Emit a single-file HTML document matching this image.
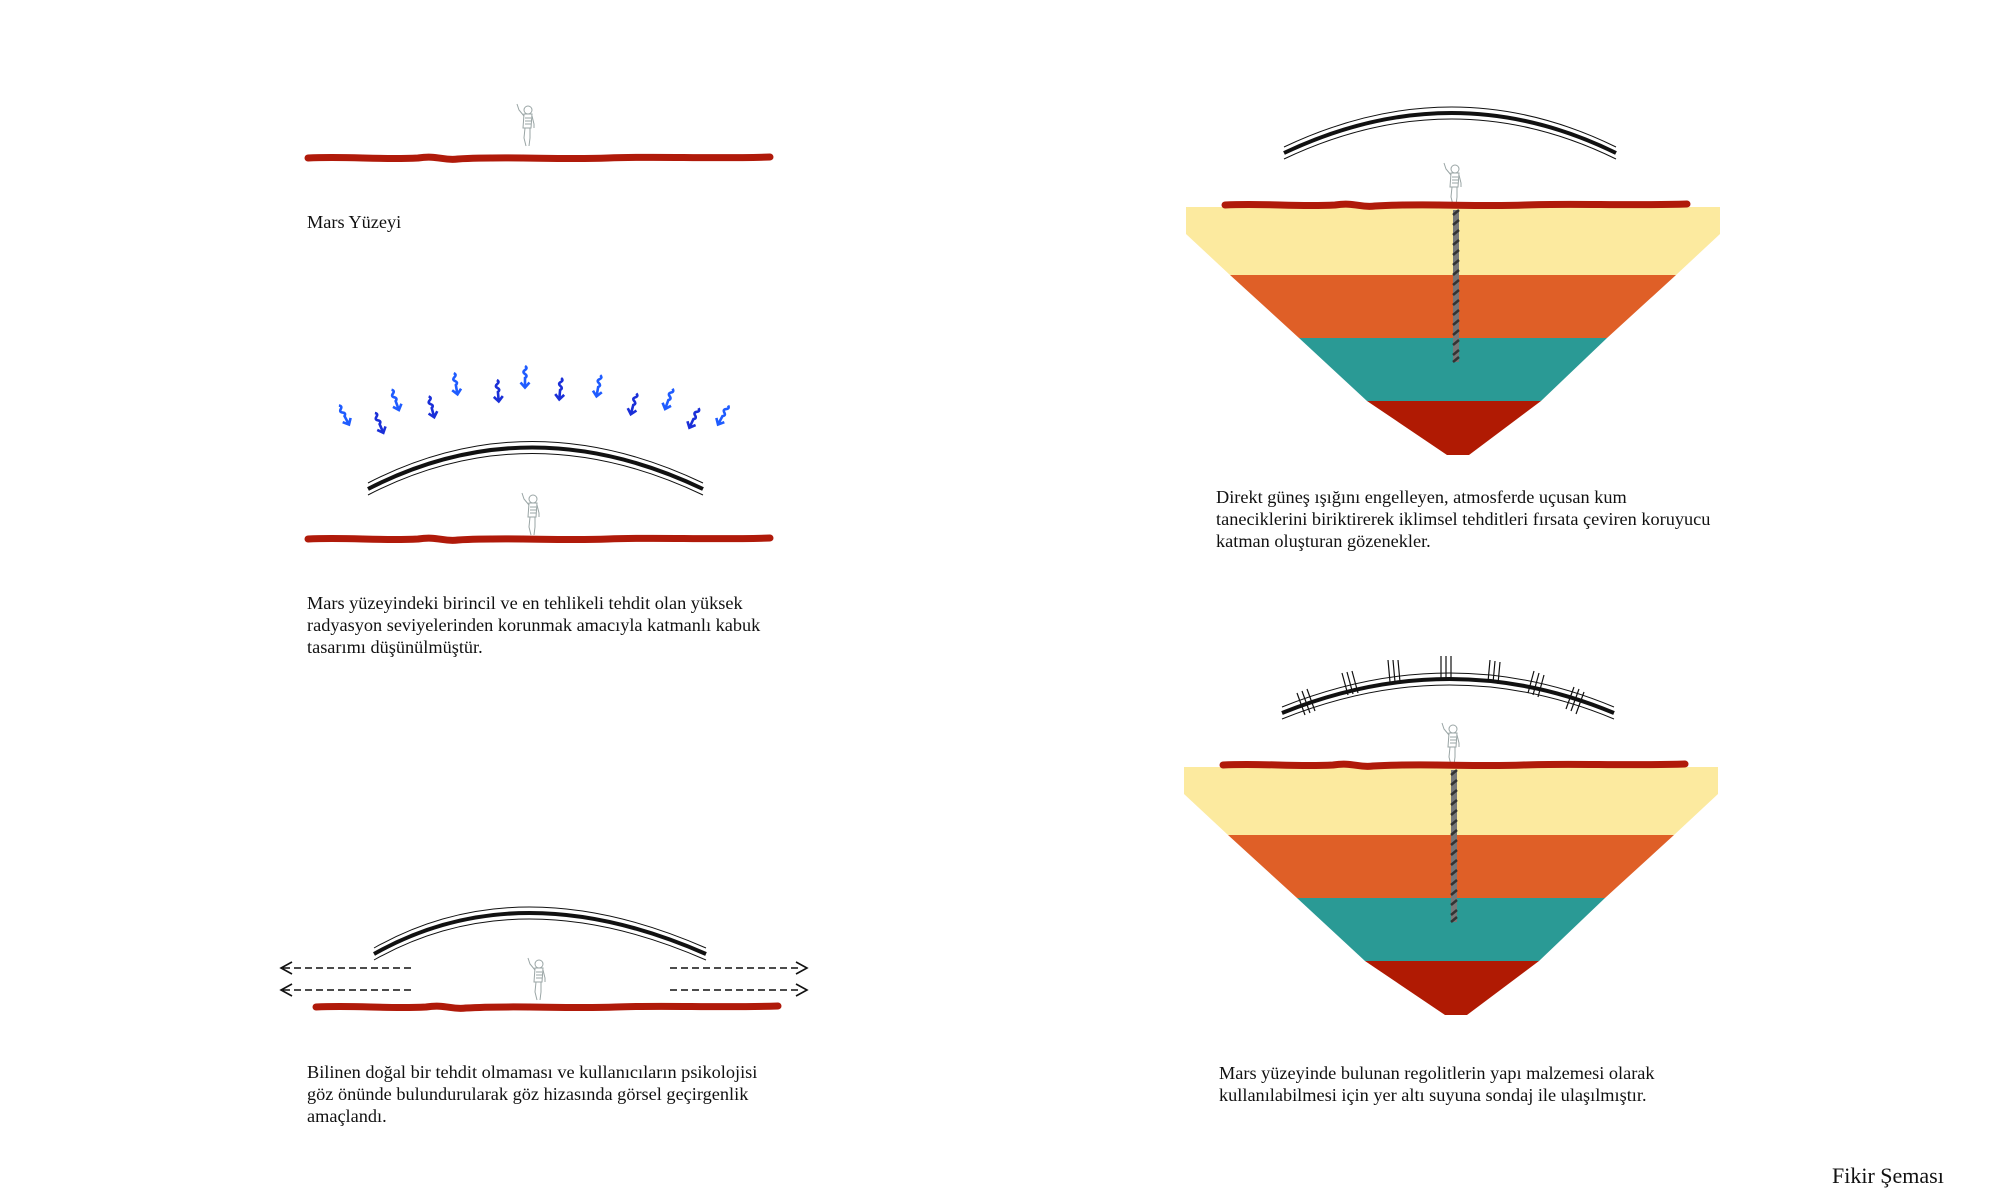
<!DOCTYPE html>
<html><head><meta charset="utf-8"><style>
html,body{margin:0;padding:0;background:#fff;}
svg{display:block;}
text{font-family:"Liberation Serif",serif;font-size:18.3px;fill:#111;}
</style></head><body>
<svg width="2000" height="1200" viewBox="0 0 2000 1200" xmlns="http://www.w3.org/2000/svg">
<defs>
  <g id="astro" fill="none" stroke="#9aa5a5" stroke-width="1">
    <circle cx="3" cy="-36" r="4"/>
    <path d="M-1,-32 L-2,-18 L6,-18 L7,-32 Z"/>
    <path d="M-1,-30 L-6,-36 L-8,-42"/>
    <path d="M7,-30 L9,-22 L9,-18"/>
    <path d="M0,-18 L-1,-8 L1,0 M5,-18 L5,-8 L4,0"/>
    <path d="M0,-28 h6 M0,-25 h6 M0,-22 h6"/>
  </g>
  <path id="redline" d="M0,0 C40,-2 70,2 110,0 C130,-3 135,3 150,1 C200,-2 250,2 300,0 C350,-2 400,1 462,-1" fill="none" stroke="#b01a0a" stroke-width="7" stroke-linecap="round"/>
  <g id="arr">
    <path d="M0,-13 q3,2 0,4 q-3,2 0,4 q3,2 0,4 L0,8" fill="none" stroke-width="2.6"/>
    <path d="M-4.5,3.5 L0,8.5 L4.5,3.5" fill="none" stroke-width="2.6"/>
  </g>
</defs>

<!-- Panel 1 -->
<use href="#astro" x="525" y="146"/>
<use href="#redline" x="308" y="158"/>
<text x="307" y="228">Mars Yüzeyi</text>

<!-- Panel 2 -->
<g fill="none" stroke="#111">
  <path d="M368,489 Q529,406 703,489" stroke-width="4"/>
  <path d="M368,483 Q529,400 703,483" stroke-width="1"/>
  <path d="M368,495 Q529,412 703,495" stroke-width="1"/>
</g>
<g stroke="#1f5cff">
  <use href="#arr" transform="translate(345,417) rotate(-28)"/>
  <use href="#arr" transform="translate(380,425) rotate(-23)" stroke="#1a2fd8"/>
  <use href="#arr" transform="translate(396,402) rotate(-20)"/>
  <use href="#arr" transform="translate(432,409) rotate(-15)" stroke="#1a2fd8"/>
  <use href="#arr" transform="translate(456,386) rotate(-10)"/>
  <use href="#arr" transform="translate(498,393) rotate(-5)" stroke="#1a2fd8"/>
  <use href="#arr" transform="translate(525,379) rotate(0)"/>
  <use href="#arr" transform="translate(560,391) rotate(5)" stroke="#1a2fd8"/>
  <use href="#arr" transform="translate(598,388) rotate(10)"/>
  <use href="#arr" transform="translate(633,406) rotate(15)" stroke="#1a2fd8"/>
  <use href="#arr" transform="translate(668,401) rotate(20)"/>
  <use href="#arr" transform="translate(693,420) rotate(25)" stroke="#1a2fd8"/>
  <use href="#arr" transform="translate(722,417) rotate(28)"/>
</g>
<use href="#astro" x="530" y="535"/>
<use href="#redline" x="308" y="539"/>
<text x="307" y="609">Mars yüzeyindeki birincil ve en tehlikeli tehdit olan yüksek</text>
<text x="307" y="631">radyasyon seviyelerinden korunmak amacıyla katmanlı kabuk</text>
<text x="307" y="653">tasarımı düşünülmüştür.</text>

<!-- Panel 3 -->
<g fill="none" stroke="#111">
  <path d="M374,954 Q519,872 706,954" stroke-width="4"/>
  <path d="M374,948 Q519,866 706,948" stroke-width="1"/>
  <path d="M374,960 Q519,878 706,960" stroke-width="1"/>
</g>
<g fill="none" stroke="#111" stroke-width="1.6">
  <path d="M283,968 H413 M283,990 H413 M670,968 H800 M670,990 H800" stroke-dasharray="7,4"/>
  <path d="M292,962 L281,968 L292,974 M292,984 L281,990 L292,996"/>
  <path d="M796,962 L807,968 L796,974 M796,984 L807,990 L796,996"/>
</g>
<use href="#astro" x="536" y="1000"/>
<use href="#redline" x="316" y="1007"/>
<text x="307" y="1078">Bilinen doğal bir tehdit olmaması ve kullanıcıların psikolojisi</text>
<text x="307" y="1100">göz önünde bulundurularak göz hizasında görsel geçirgenlik</text>
<text x="307" y="1122">amaçlandı.</text>

<!-- Right top -->
<g id="strata">
  <polygon points="1186,207 1720,207 1720,234 1676,275 1230,275 1186,234" fill="#fcea9f"/>
  <polygon points="1230,275 1676,275 1607,338 1299,338 " fill="#df5f27"/>
  <polygon points="1299,338 1607,338 1541,401 1367,401" fill="#2a9a95"/>
  <polygon points="1367,401 1541,401 1469,455 1447,455" fill="#b01a03"/>
  <rect x="1453" y="210" width="6" height="152" fill="#777"/>
  <path d="M1453,215 l6,-5 M1453,225 l6,-5 M1453,235 l6,-5 M1453,245 l6,-5 M1453,255 l6,-5 M1453,265 l6,-5 M1453,275 l6,-5 M1453,285 l6,-5 M1453,295 l6,-5 M1453,305 l6,-5 M1453,315 l6,-5 M1453,325 l6,-5 M1453,335 l6,-5 M1453,345 l6,-5 M1453,355 l6,-5 M1453,362 l6,-5" stroke="#333" stroke-width="2.5"/>
  <use href="#astro" x="1452" y="205"/>
  <use href="#redline" x="1225" y="205"/>
</g>
<g fill="none" stroke="#111">
  <path d="M1284,153 Q1453,73 1616,153" stroke-width="4"/>
  <path d="M1284,147 Q1453,67 1616,147" stroke-width="1"/>
  <path d="M1284,159 Q1453,79 1616,159" stroke-width="1"/>
</g>
<text x="1216" y="503">Direkt güneş ışığını engelleyen, atmosferde uçusan kum</text>
<text x="1216" y="525">taneciklerini biriktirerek iklimsel tehditleri fırsata çeviren koruyucu</text>
<text x="1216" y="547">katman oluşturan gözenekler.</text>

<!-- Right bottom -->
<use href="#strata" transform="translate(-2,560)"/>
<g fill="none" stroke="#111">
  <path d="M1282,713 Q1451,645 1614,713" stroke-width="4"/>
  <path d="M1282,707 Q1451,639 1614,707" stroke-width="1"/>
  <path d="M1282,719 Q1451,651 1614,719" stroke-width="1"/>
</g>
<g stroke="#111" stroke-width="1.2">
  <path d="M1297,693 l8,22 M1302,691 l8,22 M1307,689 l8,22"/>
  <path d="M1342,673 l6,22 M1347,672 l6,22 M1352,671 l6,22"/>
  <path d="M1388,660 l2,22 M1393,660 l2,22 M1398,660 l2,22"/>
  <path d="M1441,656 v22 M1446,656 v22 M1451,656 v22"/>
  <path d="M1490,660 l-2,22 M1495,661 l-2,22 M1500,662 l-2,22"/>
  <path d="M1534,671 l-6,22 M1539,673 l-6,22 M1544,675 l-6,22"/>
  <path d="M1574,687 l-8,22 M1579,689 l-8,22 M1584,692 l-8,22"/>
</g>
<text x="1219" y="1079">Mars yüzeyinde bulunan regolitlerin yapı malzemesi olarak</text>
<text x="1219" y="1101">kullanılabilmesi için yer altı suyuna sondaj ile ulaşılmıştır.</text>

<text x="1832" y="1183" style="font-size:22px">Fikir Şeması</text>
</svg>
</body></html>
